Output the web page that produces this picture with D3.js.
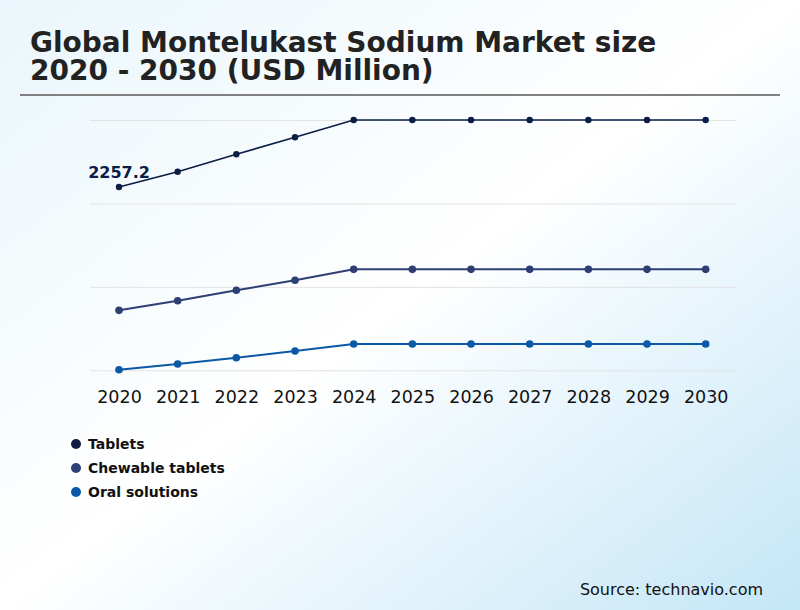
<!DOCTYPE html>
<html><head><meta charset="utf-8">
<script src="https://cdn.jsdelivr.net/npm/d3@7"></script>
<style>html,body{margin:0;padding:0;overflow:hidden;}svg{display:block;font-family:"DejaVu Sans",sans-serif;}</style>
</head><body>
<svg id="chart" width="800" height="610"></svg>
<script>
const years = ["2020","2021","2022","2023","2024","2025","2026","2027","2028","2029","2030"];
const tablets = [2257.2, 2404, 2571, 2734, 2900, 2900, 2900, 2900, 2900, 2900, 2900];
const chewable = [1075, 1167, 1267, 1363, 1468, 1468, 1468, 1468, 1468, 1468, 1468];
const oral = [505, 560, 621, 685, 752, 752, 752, 752, 752, 752, 752];
const gridTicks = [500, 1300, 2100, 2900];
const seriesNames = ["Tablets", "Chewable tablets", "Oral solutions"];
const seriesColors = ["#0b1c45", "#2d3f74", "#0a58a6"];

const series = [
  {name: seriesNames[0], values: tablets, color: seriesColors[0], w: 1.6, r: 3.2},
  {name: seriesNames[1], values: chewable, color: seriesColors[1], w: 2, r: 3.8},
  {name: seriesNames[2], values: oral, color: seriesColors[2], w: 2, r: 3.8}
];

const svg = d3.select("#chart");
const defs = svg.append("defs");
const grad = defs.append("linearGradient").attr("id","bg").attr("x1","0").attr("y1","0").attr("x2","1").attr("y2","1");
grad.append("stop").attr("offset","0").attr("stop-color","#eaf6fb");
grad.append("stop").attr("offset","0.5").attr("stop-color","#ffffff");
grad.append("stop").attr("offset","1").attr("stop-color","#c4e6f7");
svg.append("rect").attr("width",800).attr("height",610).attr("fill","url(#bg)");

// Title
const title = svg.append("text").attr("x",30).attr("font-weight","bold").attr("font-size",28).attr("fill","#222");
title.append("tspan").attr("x",30).attr("y",52).text("Global Montelukast Sodium Market size");
title.append("tspan").attr("x",30).attr("y",80).text("2020 - 2030 (USD Million)");
svg.append("line").attr("x1",20).attr("x2",780).attr("y1",95).attr("y2",95).attr("stroke","#808080").attr("stroke-width",2);

const x = d3.scalePoint().domain(years).range([119, 705.7]);
const y = d3.scaleLinear().domain([500, 2900]).range([370.3, 120]);

// gridlines
const gy = svg.append("g").attr("transform","translate(90,0)")
  .call(d3.axisLeft(y).tickValues(gridTicks).tickSize(-646).tickFormat(""));
gy.select(".domain").remove();
gy.selectAll(".tick line").attr("stroke","#e3e3e3").attr("stroke-width",1);

// x axis labels
const gx = svg.append("g").attr("transform","translate(0,387)")
  .call(d3.axisBottom(x).tickSize(0).tickPadding(4));
gx.select(".domain").remove();
gx.selectAll("text").attr("font-size",17.5).attr("fill","#111").attr("font-family","DejaVu Sans, sans-serif");

const line = d3.line().x((d,i)=>x(years[i])).y(d=>y(d));
series.forEach(s=>{
  svg.append("path").datum(s.values).attr("d",line).attr("fill","none").attr("stroke",s.color).attr("stroke-width",s.w);
  svg.append("g").selectAll("circle").data(s.values).join("circle")
    .attr("cx",(d,i)=>x(years[i])).attr("cy",d=>y(d)).attr("r",s.r).attr("fill",s.color);
});

// data label
svg.append("text").attr("x",x(years[0])).attr("y",y(tablets[0])-9).attr("text-anchor","middle")
  .attr("font-weight","bold").attr("font-size",16).attr("fill","#0b1c45").text(d3.format(".1f")(tablets[0]));

// legend
const lg = svg.append("g");
series.forEach((s,i)=>{
  const yy = 444 + i*24;
  lg.append("circle").attr("cx",76).attr("cy",yy).attr("r",5).attr("fill",s.color);
  lg.append("text").attr("x",88).attr("y",yy+5).attr("font-size",14).attr("font-weight","bold").attr("fill","#111").text(s.name);
});

svg.append("text").attr("x",763).attr("y",595).attr("text-anchor","end").attr("font-size",16).attr("fill","#111").text("Source: technavio.com");
</script>
</body></html>
